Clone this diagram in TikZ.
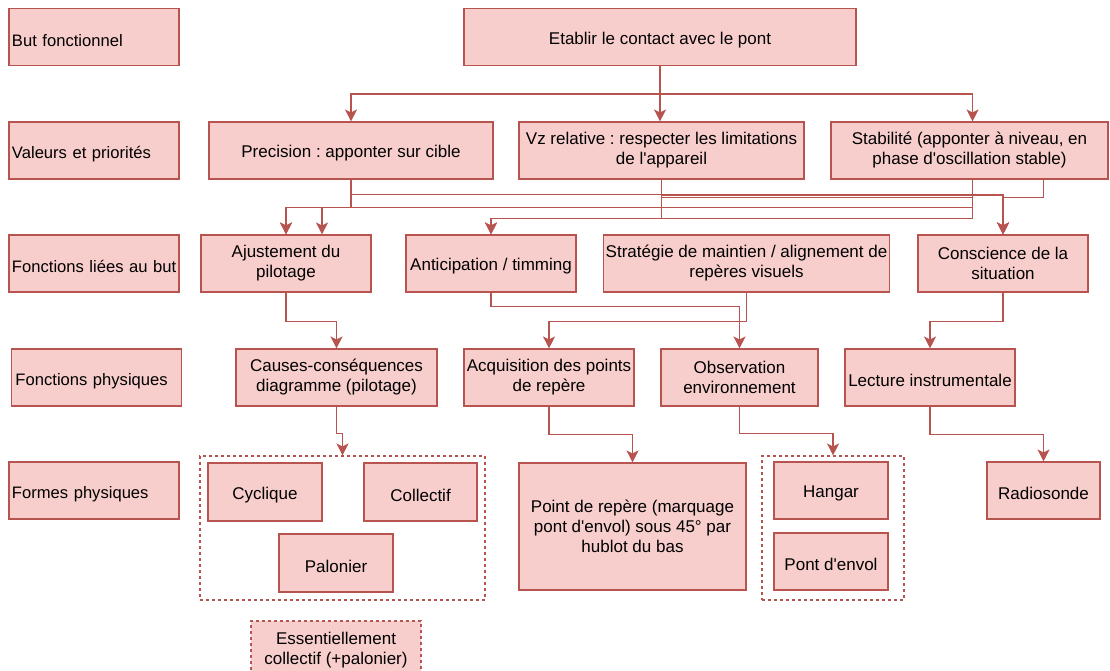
\documentclass[tikz,border=0pt]{standalone}
\usepackage{fontspec}
\setmainfont{Liberation Sans}
\usetikzlibrary{arrows.meta}
\definecolor{boxfill}{HTML}{F8CECC}
\definecolor{boxline}{HTML}{B85450}
\tikzset{
	box/.style={draw=boxline, fill=boxfill, line width=1.1pt, minimum height=57pt, align=center, inner sep=2pt, font=\fontsize{17}{20}\selectfont\frenchspacing, execute at begin node={\rule{0pt}{18.5pt}}},
	tag/.style={box, text width=164pt, align=left, inner xsep=3pt, font=\fontsize{16.6}{20}\selectfont},
	group/.style={draw=boxline, dashed, line width=1.1pt, minimum height=144pt},
	link/.style={draw=boxline, line width=1.3pt, -{Stealth[length=12pt, width=12pt, inset=3pt]}},
}
\begin{document}
\begin{tikzpicture}[x=1pt, y=-1pt]
			\useasboundingbox (0,0) rectangle (1110,671);
			
			\node[tag] (butf) at (94, 37) {But fonctionnel};
			\node[box, minimum width=392pt] (etab) at (660, 37) {Etablir le contact avec le pont};
			
			\node[tag] (valp) at (94, 150.5) {Valeurs et priorités};
			\node[box, minimum width=284pt] (prec) at (351, 150.5) {Precision : apponter sur cible};
			\node[box, minimum width=285pt] (vzrel) at (661.5, 150.5) {Vz relative : respecter les limitations\\de l\textquotesingle appareil};
			\node[box, minimum width=277pt] (stab) at (969.5, 150.5) {Stabilité (apponter à niveau, en\\phase d\textquotesingle oscillation stable)};
			
			\node[tag] (fonl) at (94, 263.5) {\mbox{Fonctions liées au but}};
			\node[box, minimum width=170pt] (ajust) at (286, 263.5) {Ajustement du\\pilotage};
			\node[box, minimum width=170pt] (antic) at (491, 263.5) {Anticipation / timming};
			\node[box, minimum width=285pt] (strat) at (746.5, 263.5) {Stratégie de maintien / alignement de\\repères visuels};
			\node[box, minimum width=170pt] (consc) at (1003, 263.5) {Conscience de la\\situation};
			
			\node[tag] (fonp) at (96.5, 377.5) {\hspace{1pt}Fonctions physiques};
			\node[box, minimum width=201pt] (causes) at (336.5, 377.5) {Causes-conséquences\\diagramme (pilotage)};
			\node[box, minimum width=170pt] (acqu) at (549, 377.5) {Acquisition des points\\de repère};
			\node[box, minimum width=157pt] (obs) at (739.5, 377.5) {Observation\\environnement};
			\node[box, minimum width=170pt] (lect) at (930, 377.5) {Lecture instrumentale};
			
			\node[tag] (formp) at (94, 490.5) {Formes physiques};
			\node[group, minimum width=285pt] (grp1) at (342.5, 528) {};
			\node[box, minimum width=114pt, minimum height=58pt] (cycl) at (265, 492) {Cyclique};
			\node[box, minimum width=113pt, minimum height=58pt] (coll) at (420.5, 492) {Collectif};
			\node[box, minimum width=114pt, minimum height=58pt] (palo) at (336, 563) {Palonier};
			\node[box, minimum width=227pt, minimum height=127pt] (point) at (632.5, 526.5) {Point de repère (marquage\\pont d\textquotesingle envol) sous 45° par\\hublot du bas};
			\node[group, minimum width=142pt] (grp2) at (833, 528) {};
			\node[box, minimum width=114pt] (hang) at (831, 490.5) {Hangar};
			\node[box, minimum width=114pt] (pontv) at (831, 561.5) {Pont d\textquotesingle envol};
			\node[box, minimum width=113pt] (radio) at (1043.5, 490.5) {Radiosonde};
			\node[box, dashed, minimum width=170pt, minimum height=58pt] (essen) at (336, 650) {Essentiellement\\collectif (+palonier)};
			
			\draw[link] (etab.south) -- ++(0,28) -| (prec.north);
			\draw[link] (etab.south) -- (etab.south |- vzrel.north);
			\draw[link] (etab.south) -- ++(0,28) -| ([xshift=3pt]stab.north);
			
			\draw[link] (prec.south) -- ++(0,15) -| (consc.north);
			\draw[link] (vzrel.south) -- ++(0,16) -| (consc.north);
			\draw[link] ([xshift=74pt]stab.south) -- ++(0,18) -| (consc.north);
			\draw[link] (prec.south) -- ++(0,28) -| ([xshift=36pt]ajust.north);
			\draw[link] ([xshift=3pt]stab.south) -- ++(0,28) -| (ajust.north);
			\draw[link] (vzrel.south) -- ++(0,18) -- ++(311,0) -- ++(0,10) -| (ajust.north);
			\draw[link] (vzrel.south) -- ++(0,39) -| (antic.north);
			\draw[link] ([xshift=3pt]stab.south) -- ++(0,39) -| (antic.north);
			
			\draw[link] (ajust.south) -- ++(0,29) -| (causes.north);
			\draw[link] (antic.south) -- ++(0,14) -| (obs.north);
			\draw[link] (strat.south) -- ++(0,29) -| (acqu.north);
			\draw[link] (consc.south) -- ++(0,29) -| (lect.north);
			
			\draw[link] (causes.south) -- ++(0,27) -| (grp1.north);
			\draw[link] (acqu.south) -- ++(0,28) -| (point.north);
			\draw[link] (obs.south) -- ++(0,27) -| (grp2.north);
			\draw[link] (lect.south) -- ++(0,28) -| (radio.north);
		
		\end{tikzpicture}
\end{document}
